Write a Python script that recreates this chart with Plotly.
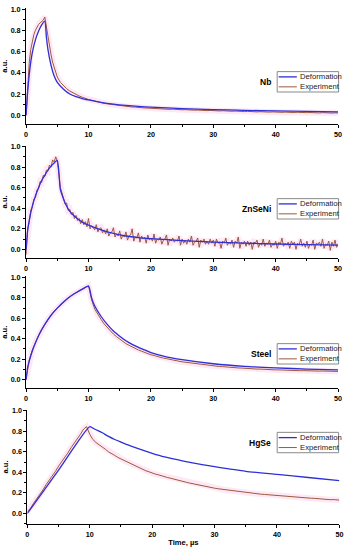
import numpy as np
import plotly.graph_objects as go

W, H = 349, 550

materials = ["Nb", "ZnSeNi", "Steel", "HgSe"]
legend_names = ["Deformation", "Experiment"]
x_tick_vals = [0, 10, 20, 30, 40, 50]
y_tick_vals = [0.0, 0.2, 0.4, 0.6, 0.8, 1.0]

# ---------------- Nb ----------------
nb_def_t = [0, 0.25, 0.5, 0.75, 1.0, 1.5, 2.0, 2.5, 3.0, 3.25, 3.5, 4.0, 4.5, 5, 6, 7, 8, 9, 10,
            12, 14, 16, 18, 20, 25, 30, 35, 40, 45, 50]
nb_def_v = [0, 0.22, 0.38, 0.50, 0.59, 0.71, 0.79, 0.85, 0.885, 0.74, 0.62, 0.47, 0.37, 0.31, 0.245,
            0.20, 0.175, 0.158, 0.145, 0.122, 0.105, 0.093, 0.084, 0.077, 0.063, 0.054, 0.047, 0.041,
            0.037, 0.033]
nb_exp_t = list(np.arange(0, 5.001, 0.25)) + list(np.arange(5.5, 50.001, 0.5))
nb_exp_v = [0.00, 0.30, 0.49, 0.62, 0.70, 0.76, 0.80, 0.83, 0.855, 0.87, 0.885, 0.895, 0.925,
            0.83, 0.73, 0.64, 0.57, 0.50, 0.45, 0.40, 0.36,
            0.31, 0.275, 0.25, 0.228, 0.21, 0.196, 0.182, 0.17, 0.158, 0.149,
            0.142, 0.133, 0.128, 0.12, 0.112, 0.108, 0.104, 0.097, 0.095, 0.09,
            0.088, 0.083, 0.082, 0.078, 0.077, 0.072, 0.073, 0.069, 0.068, 0.066,
            0.065, 0.061, 0.063, 0.059, 0.06, 0.056, 0.058, 0.054, 0.055, 0.052,
            0.053, 0.05, 0.052, 0.048, 0.049, 0.046, 0.048, 0.044, 0.046, 0.043,
            0.044, 0.041, 0.043, 0.04, 0.041, 0.038, 0.04, 0.036, 0.038, 0.035,
            0.037, 0.034, 0.035, 0.032, 0.034, 0.031, 0.033, 0.03, 0.032, 0.029,
            0.031, 0.028, 0.03, 0.027, 0.029, 0.026, 0.028, 0.025, 0.027, 0.025,
            0.026, 0.023, 0.026, 0.022, 0.025, 0.022, 0.024, 0.021, 0.023, 0.022]

# ---------------- ZnSeNi ----------------
zn_def_t = [0, 0.25, 0.5, 1, 1.5, 2, 2.5, 3, 3.5, 4, 4.5, 5, 5.5, 6, 6.5, 7, 8, 9, 10,
            12, 14, 16, 18, 20, 25, 30, 35, 40, 45, 50]
zn_def_v = [0, 0.18, 0.28, 0.42, 0.52, 0.6, 0.67, 0.72, 0.77, 0.81, 0.84, 0.865, 0.58, 0.49, 0.42,
            0.37, 0.31, 0.265, 0.235, 0.19, 0.155, 0.13, 0.115, 0.105, 0.085, 0.07, 0.06, 0.052,
            0.046, 0.042]
zn_exp_t = list(np.arange(0, 50.001, 0.25))
zn_exp_v = [-0.05, 0.2, 0.26, 0.38, 0.41, 0.49, 0.5, 0.58, 0.59, 0.66, 0.65, 0.72, 0.71, 0.77, 0.76,
            0.82, 0.8, 0.87, 0.85, 0.9, 0.86,
            0.72, 0.6, 0.55, 0.5, 0.44, 0.45, 0.38, 0.39, 0.34, 0.36, 0.3, 0.33, 0.28, 0.3, 0.25, 0.29,
            0.24, 0.27, 0.22, 0.3,
            0.2, 0.23, 0.21, 0.19, 0.24, 0.17, 0.2, 0.21, 0.16, 0.19, 0.15, 0.2, 0.13, 0.16, 0.17, 0.21,
            0.12, 0.15, 0.13, 0.18,
            0.1, 0.14, 0.12, 0.17, 0.09, 0.13, 0.14, 0.2, 0.08, 0.12, 0.11, 0.16, 0.07, 0.13, 0.1, 0.12,
            0.06, 0.14, 0.09, 0.11,
            0.08, 0.15, 0.06, 0.1, 0.09, 0.12, 0.05, 0.09, 0.1, 0.14, 0.04, 0.1, 0.08, 0.11, 0.07, 0.09,
            0.08, 0.13, 0.04, 0.1,
            0.06, 0.09, 0.05, 0.1, 0.07, 0.13, 0.04, 0.07, 0.08, 0.11, 0.02, 0.09, 0.07, 0.1, 0.05, 0.08,
            0.05, 0.1, 0.06, 0.09,
            0.03, 0.1, 0.06, 0.07, 0.01, 0.08, 0.06, 0.11, 0.04, 0.07, 0.05, 0.09, 0.02, 0.08, 0.06, 0.12,
            0.01, 0.07, 0.05, 0.08,
            0.03, 0.08, 0.04, 0.07, 0.0, 0.07, 0.06, 0.09, 0.02, 0.06, 0.04, 0.1, 0.03, 0.06, 0.05, 0.09,
            0.02, 0.05, 0.04, 0.08,
            0.01, 0.07, 0.05, 0.11, 0.03, 0.06, 0.04, 0.07, 0.01, 0.08, 0.05, 0.07, 0.0, 0.06, 0.04, 0.1,
            0.03, 0.06, 0.02, 0.08,
            0.01, 0.05, 0.04, 0.09, 0.0, 0.06, 0.05, 0.07, 0.03, 0.1, 0.01, 0.05, 0.04, 0.08, -0.01, 0.07,
            0.03, 0.09, 0.02, 0.05]

# ---------------- Steel ----------------
st_def_t = [0, 0.25, 0.5, 1, 1.5, 2, 3, 4, 5, 6, 7, 8, 9, 10, 10.5, 11, 12, 13, 14, 15, 16, 17, 18,
            19, 20, 22, 25, 30, 35, 40, 45, 50]
st_def_v = [0, 0.12, 0.18, 0.28, 0.36, 0.43, 0.54, 0.63, 0.7, 0.76, 0.81, 0.85, 0.885, 0.915, 0.8,
            0.72, 0.62, 0.54, 0.475, 0.425, 0.38, 0.345, 0.315, 0.29, 0.265, 0.23, 0.195, 0.155, 0.13,
            0.115, 0.103, 0.095]
st_exp_t = list(np.arange(0, 50.001, 0.5))
st_exp_v = [0, 0.19, 0.29, 0.37, 0.43, 0.49, 0.54, 0.59, 0.63, 0.67, 0.7, 0.73, 0.76, 0.79, 0.81,
            0.835, 0.85, 0.87, 0.885, 0.9, 0.92,
            0.78, 0.69, 0.635, 0.59, 0.545, 0.51, 0.475, 0.445, 0.42, 0.395,
            0.372, 0.352, 0.336, 0.318, 0.305, 0.29, 0.278, 0.265, 0.255, 0.243,
            0.236, 0.226, 0.22, 0.21, 0.205, 0.197, 0.192, 0.184, 0.18, 0.174,
            0.17, 0.164, 0.161, 0.155, 0.152, 0.147, 0.145, 0.14, 0.138, 0.134,
            0.132, 0.128, 0.127, 0.123, 0.122, 0.118, 0.117, 0.114, 0.113, 0.11,
            0.109, 0.107, 0.106, 0.103, 0.103, 0.1, 0.1, 0.098, 0.097, 0.095,
            0.095, 0.093, 0.093, 0.091, 0.091, 0.089, 0.089, 0.087, 0.088, 0.086,
            0.086, 0.085, 0.085, 0.083, 0.084, 0.082, 0.083, 0.081, 0.082, 0.08]

# ---------------- HgSe ----------------
hg_def_t = [0, 5, 10, 10.5, 11, 12, 13, 14, 15, 16, 18, 20, 22, 25, 28, 30, 35, 40, 45, 50]
hg_def_v = [0.0, 0.4225, 0.845, 0.83, 0.815, 0.785, 0.75, 0.72, 0.695, 0.67, 0.625, 0.585, 0.55,
            0.51, 0.475, 0.455, 0.41, 0.38, 0.35, 0.32]
hg_exp_t = list(np.arange(0, 50.001, 0.5))
hg_exp_v = [0.02, 0.05, 0.1, 0.14, 0.19, 0.23, 0.28, 0.32, 0.37, 0.41, 0.46, 0.5, 0.55, 0.59, 0.64,
            0.68, 0.73, 0.77, 0.82, 0.845, 0.77,
            0.72, 0.69, 0.67, 0.645, 0.625, 0.6, 0.585, 0.565, 0.545, 0.53,
            0.515, 0.5, 0.485, 0.468, 0.452, 0.437, 0.428, 0.415, 0.405, 0.392,
            0.383, 0.376, 0.365, 0.358, 0.349, 0.342, 0.333, 0.327, 0.318, 0.312,
            0.303, 0.296, 0.289, 0.283, 0.276, 0.27, 0.263, 0.258, 0.251, 0.246,
            0.241, 0.237, 0.231, 0.228, 0.222, 0.219, 0.213, 0.21, 0.205, 0.202,
            0.199, 0.196, 0.193, 0.19, 0.187, 0.185, 0.182, 0.18, 0.177, 0.176,
            0.172, 0.171, 0.167, 0.166, 0.162, 0.161, 0.157, 0.156, 0.152, 0.151,
            0.148, 0.147, 0.143, 0.142, 0.139, 0.138, 0.134, 0.135, 0.131, 0.13]

series = [
    (nb_def_t, nb_def_v, nb_exp_t, nb_exp_v),
    (zn_def_t, zn_def_v, zn_exp_t, zn_exp_v),
    (st_def_t, st_def_v, st_exp_t, st_exp_v),
    (hg_def_t, hg_def_v, hg_exp_t, hg_exp_v),
]

# panel geometry in pixels (top, bottom of y axis, x start, x end), y range min
panel_px = [(5, 122, 24.5, 342), (143.3, 256.7, 24.5, 342),
            (274.9, 387.3, 24.5, 342), (408.9, 524, 25.8, 343.3)]
y_min = [-0.085, -0.087, -0.084, -0.104]
legend_top = [69, 196.7, 342.5, 431.7]

BLUE = "#2f2fd8"
BROWN = "#9b5a3c"
HALO = "rgba(255,110,190,0.16)"

fig = go.Figure()
tickfont = dict(family="Liberation Sans, Arial", size=7.2, color="black", weight="bold")

for i, (dt, dv, et, ev) in enumerate(series):
    n = "" if i == 0 else str(i + 1)
    xa, ya = "x" + n, "y" + n
    fig.add_trace(go.Scatter(x=et, y=ev, xaxis=xa, yaxis=ya, mode="lines",
                             line=dict(color=HALO, width=6), showlegend=False, hoverinfo="skip"))
    fig.add_trace(go.Scatter(x=et, y=ev, xaxis=xa, yaxis=ya, mode="lines", name=legend_names[1],
                             line=dict(color=BROWN, width=1), showlegend=False))
    fig.add_trace(go.Scatter(x=dt, y=dv, xaxis=xa, yaxis=ya, mode="lines", name=legend_names[0],
                             line=dict(color=BLUE, width=1.3, shape="spline", smoothing=0.6),
                             showlegend=False))
    top, bot, x0, x1 = panel_px[i]
    xaxis = dict(domain=[x0 / W, x1 / W], anchor=ya, range=[0, 50], showline=True,
                 linecolor="black", linewidth=1, ticks="outside", ticklen=3, tickwidth=1,
                 tickcolor="black", tickvals=x_tick_vals, tickfont=tickfont, showgrid=False,
                 zeroline=False, minor=dict(ticks="outside", ticklen=2, dtick=5, tick0=0,
                                            tickcolor="black"))
    if i == 3:
        xaxis["title"] = dict(text="Time, µs", standoff=1,
                              font=dict(family="Liberation Sans, Arial", size=7.6,
                                        color="black", weight="bold"))
    yaxis = dict(domain=[1 - bot / H, 1 - top / H], anchor=xa, range=[y_min[i], 1.01],
                 showline=True, linecolor="black", linewidth=1, ticks="outside", ticklen=3,
                 tickwidth=1, tickcolor="black", tickvals=y_tick_vals, tickformat=".1f",
                 tickfont=tickfont, showgrid=False, zeroline=False,
                 minor=dict(ticks="outside", ticklen=2, dtick=0.1, tick0=0, tickcolor="black"),
                 title=dict(text="a.u.", standoff=2,
                            font=dict(family="Liberation Sans, Arial", size=7.6,
                                      color="black", weight="bold")))
    fig.update_layout(**{"xaxis" + n: xaxis, "yaxis" + n: yaxis})

    # compact legend box (drawn with shapes and text)
    lt = legend_top[i]
    lh, lw, lr = 20.5, 62.5, 342.5
    ll = lr - lw
    fig.add_shape(type="rect", xref="paper", yref="paper", x0=ll / W, x1=lr / W,
                  y0=1 - (lt + lh) / H, y1=1 - lt / H,
                  line=dict(color="#8a8a8a", width=1), fillcolor="white", layer="above")
    for k, (name, col, wdt) in enumerate([(legend_names[0], BLUE, 1.3), (legend_names[1], BROWN, 1)]):
        yy = lt + 5.3 + k * 10
        fig.add_shape(type="line", xref="paper", yref="paper", x0=(ll + 1.5) / W, x1=(ll + 20) / W,
                      y0=1 - yy / H, y1=1 - yy / H, line=dict(color=col, width=wdt), layer="above")
        fig.add_annotation(x=(ll + 21) / W, y=1 - yy / H, xref="paper", yref="paper", text=name,
                           showarrow=False, xanchor="left", yanchor="middle",
                           font=dict(family="Liberation Sans, Arial", size=7.7, color="#222"))
    fig.add_annotation(x=(ll - 4) / W, y=1 - (lt + lh / 2) / H, xref="paper", yref="paper",
                       text=materials[i], showarrow=False, xanchor="right", yanchor="middle",
                       font=dict(family="Liberation Sans, Arial", size=8.5, color="black",
                                 weight="bold"))

fig.update_layout(width=W, height=H, margin=dict(l=0, r=0, t=0, b=0),
                  paper_bgcolor="white", plot_bgcolor="white", showlegend=False)
fig.write_html("out.html", config={"displayModeBar": False},
               post_script="document.body.style.margin='0';")
